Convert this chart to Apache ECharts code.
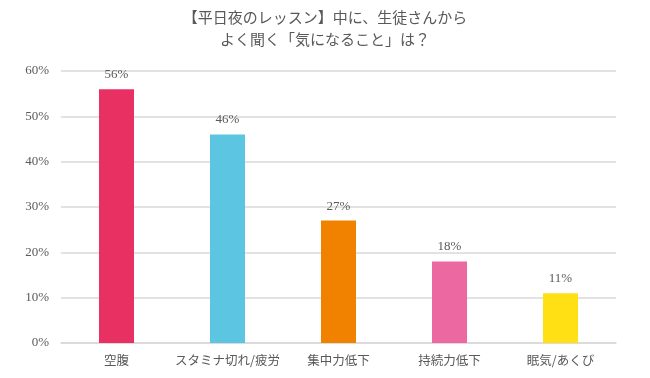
<!DOCTYPE html>
<html><head><meta charset="utf-8">
<script src="https://cdn.jsdelivr.net/npm/echarts@6/dist/echarts.min.js"></script>
<style>html,body{margin:0;padding:0;background:#fff}#c{width:650px;height:378px}</style>
</head><body><div id="c"></div>
<script>
const titleLines = ['【平日夜のレッスン】中に、生徒さんから', 'よく聞く「気になること」は？'];
const categories = ['空腹', 'スタミナ切れ/疲労', '集中力低下', '持続力低下', '眠気/あくび'];
const values = [56, 46, 27, 18, 11];
const barColors = ['#E83062', '#5BC5E2', '#F08200', '#EC68A0', '#FFE014'];
const yTicks = [0, 10, 20, 30, 40, 50, 60];

const chart = echarts.init(document.getElementById('c'), null, {renderer: 'canvas'});
chart.setOption({
  animation: false,
  title: {
    text: titleLines.join('\n'),
    left: 'center', top: 1,
    textStyle: {fontFamily: 'Noto Sans CJK JP', fontSize: 15, fontWeight: 'normal', color: '#595959', lineHeight: 22}
  },
  grid: {left: 61, right: 34, top: 71, bottom: 35, containLabel: false},
  xAxis: {
    type: 'category', data: categories,
    axisLine: {lineStyle: {color: '#D9D9D9', width: 1.5}},
    axisTick: {show: false},
    axisLabel: {interval: 0, fontFamily: 'Noto Sans CJK JP', fontSize: 12.5, color: '#595959', margin: 11}
  },
  yAxis: {
    type: 'value', min: yTicks[0], max: yTicks[yTicks.length - 1], interval: 10,
    axisLine: {show: false}, axisTick: {show: false},
    splitLine: {lineStyle: {color: '#D9D9D9', width: 1.5}},
    axisLabel: {formatter: '{value}%', fontFamily: 'Liberation Serif', fontSize: 13, color: '#595959', margin: 12}
  },
  series: [{
    type: 'bar', barWidth: 35,
    data: values.map((v, i) => ({value: v, itemStyle: {color: barColors[i]}})),
    label: {show: true, position: 'top', distance: 8, formatter: '{c}%', fontFamily: 'Liberation Serif', fontSize: 13, color: '#595959'}
  }]
});
</script></body></html>
